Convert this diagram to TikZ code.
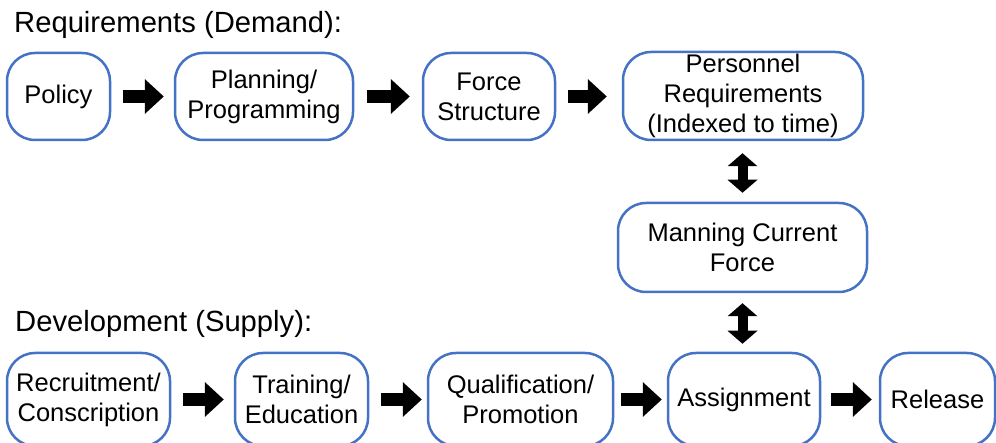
\documentclass[tikz,border=0pt]{standalone}
\usepackage{fontspec}
\setmainfont{Liberation Sans}
\usetikzlibrary{arrows.meta}
\definecolor{boxblue}{HTML}{4472C4}
\tikzset{
  box/.style={draw=boxblue, line width=2.5pt, rounded corners=28pt, fill=white,
    align=center, inner sep=0pt, font=\fontsize{25.5}{30}\selectfont},
  heading/.style={anchor=base west, inner sep=0pt, font=\fontsize{29.2}{34}\selectfont},
  harrow/.style={line width=13pt, -{Triangle[length=19pt,width=35pt,line width=0pt]}},
  varrow/.style={line width=10pt, {Triangle[length=13pt,width=30pt,line width=0pt]}-{Triangle[length=13pt,width=30pt,line width=0pt]}}
}
\begin{document}
\begin{tikzpicture}[x=1pt,y=-1pt]
\useasboundingbox (0,0) rectangle (996,443);
\node[heading] (hreq) at (14,33) {Requirements (Demand):};
\node[heading] (hdev) at (15,332) {Development (Supply):};
% top row
\node[box, minimum width=103pt, minimum height=87pt] (pol) at (58.5,96.5) {Policy};
\node[box, minimum width=178pt, minimum height=87pt] (plan) at (264,96.5) {Planning/\\Programming};
\node[box, minimum width=132pt, minimum height=87pt] (force) at (489,96.5) {Force\\Structure};
\node[box, minimum width=240pt, minimum height=88pt] (pers) at (743,96) {Personnel\\Requirements\\(Indexed to time)};
\node[box, minimum width=249pt, minimum height=89pt] (man) at (742.5,247.5) {Manning Current\\Force};
% bottom row
\node[box, minimum width=163pt, minimum height=93pt] (rec) at (88.5,399.5) {Recruitment/\\Conscription};
\node[box, minimum width=133pt, minimum height=93pt] (train) at (301.5,399.5) {Training/\\Education};
\node[box, minimum width=185pt, minimum height=93pt] (qual) at (520.5,399.5) {Qualification/\\Promotion};
\node[box, minimum width=152pt, minimum height=93pt] (asg) at (744,399.5) {Assignment};
\node[box, minimum width=115pt, minimum height=93pt] (rel) at (937.5,399.5) {Release};
% arrows
\draw[harrow, shorten <=12pt, shorten >=10pt] (pol.east) -- (pol.east -| plan.west);
\draw[harrow, shorten <=13pt, shorten >=12pt] (plan.east) -- (plan.east -| force.west);
\draw[harrow, shorten <=12pt, shorten >=15pt] (force.east) -- (force.east -| pers.west);
\draw[varrow, shorten <=12pt, shorten >=9pt] (man.north |- pers.south) -- (man.north);
\draw[varrow, shorten <=10pt, shorten >=8pt] (man.south) -- (man.south |- asg.north);
\draw[harrow, shorten <=12pt, shorten >=10pt] (rec.east) -- (rec.east -| train.west);
\draw[harrow, shorten <=12pt, shorten >=5pt] (train.east) -- (train.east -| qual.west);
\draw[harrow, shorten <=7pt, shorten >=5pt] (qual.east) -- (qual.east -| asg.west);
\draw[harrow, shorten <=10pt, shorten >=7pt] (asg.east) -- (asg.east -| rel.west);
\end{tikzpicture}
\end{document}
